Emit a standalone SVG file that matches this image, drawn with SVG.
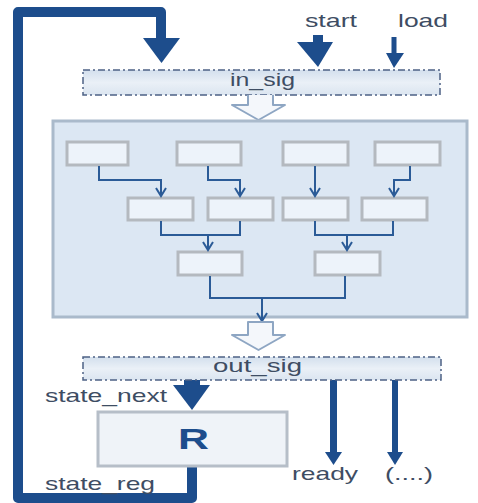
<svg xmlns="http://www.w3.org/2000/svg" width="478" height="503" viewBox="0 0 478 503">
<defs>
<linearGradient id="barg" x1="0" y1="0" x2="0" y2="1">
<stop offset="0" stop-color="#d3dfed"/>
<stop offset="0.5" stop-color="#eaf0f7"/>
<stop offset="1" stop-color="#dbe5f0"/>
</linearGradient>
<marker id="v" viewBox="-1 -6 11 12" refX="8" refY="0" markerWidth="11" markerHeight="12" markerUnits="userSpaceOnUse" orient="auto">
<path d="M0,-5 L8,0 L0,5" fill="none" stroke="#2b5b97" stroke-width="2"/>
</marker>
<style>
.lbl{font-family:"Liberation Sans",Arial,sans-serif;font-size:19px;fill:#3e4d63}
.bar{fill:url(#barg);stroke:#4d6285;stroke-width:1.5;stroke-dasharray:7 3 2 3}
.sbox{fill:#edf3fa;stroke:#b4b9bf;stroke-width:3}
.tree{fill:none;stroke:#2b5b97;stroke-width:2}
.thick{fill:#1d4d8c}
.hollow{fill:#f4f7fb;stroke:#8ea6c3;stroke-width:2;stroke-linejoin:round}
</style>
</defs>
<rect width="478" height="503" fill="#ffffff"/>

<g id="connectors">
<path d="M192,466 V498 H18 V12 H161 V40" fill="none" stroke="#1d4d8c" stroke-width="10" stroke-linejoin="round"/>
<polygon class="thick" points="143,38 180,38 161.5,63"/>
<rect class="thick" x="313" y="35" width="10" height="8"/>
<polygon class="thick" points="297,42 333,42 318,67"/>
<rect class="thick" x="391.5" y="37" width="5" height="17"/>
<polygon class="thick" points="386,53 404,53 394,68"/>
<rect class="thick" x="184" y="380" width="16" height="6"/>
<polygon class="thick" points="173,385 210,385 192,410"/>
<rect class="thick" x="330" y="380" width="7" height="74"/>
<polygon class="thick" points="325,452 342,452 333.5,465"/>
<rect class="thick" x="392" y="380" width="6" height="74"/>
<polygon class="thick" points="387,452 403,452 395,465"/>
</g>

<g id="in_sig">
<rect class="bar" x="83" y="70" width="357" height="25"/>
<text class="lbl" x="230" y="86" textLength="65" lengthAdjust="spacingAndGlyphs">in_sig</text>
</g>
<g id="start"><text class="lbl" x="305" y="27" textLength="52" lengthAdjust="spacingAndGlyphs">start</text></g>
<g id="load"><text class="lbl" x="398" y="27" textLength="50" lengthAdjust="spacingAndGlyphs">load</text></g>

<g id="hollow1"><path class="hollow" d="M248,95 V105 H232 L258.5,120 L285,105 H273 V95"/></g>

<g id="logic">
<rect x="53" y="121" width="414" height="196" fill="#dce7f3" stroke="#aabacb" stroke-width="3"/>
</g>
<g id="b1"><rect class="sbox" x="67" y="142" width="61" height="23"/></g>
<g id="b2"><rect class="sbox" x="177" y="142" width="64" height="23"/></g>
<g id="b3"><rect class="sbox" x="283" y="142" width="65" height="23"/></g>
<g id="b4"><rect class="sbox" x="375" y="142" width="65" height="23"/></g>
<g id="b5"><rect class="sbox" x="128" y="198" width="65" height="22"/></g>
<g id="b6"><rect class="sbox" x="208" y="198" width="65" height="22"/></g>
<g id="b7"><rect class="sbox" x="283" y="198" width="65" height="22"/></g>
<g id="b8"><rect class="sbox" x="362" y="198" width="65" height="22"/></g>
<g id="b9"><rect class="sbox" x="178" y="252" width="64" height="23"/></g>
<g id="b10"><rect class="sbox" x="315" y="252" width="65" height="23"/></g>

<g id="tree-connectors">
<path class="tree" d="M99,166 V180 H161 V196" marker-end="url(#v)"/>
<path class="tree" d="M208,166 V180 H240 V196" marker-end="url(#v)"/>
<path class="tree" d="M315,166 V196" marker-end="url(#v)"/>
<path class="tree" d="M410,166 V180 H394 V196" marker-end="url(#v)"/>
<path class="tree" d="M161,221 V235 H240 V221"/>
<path class="tree" d="M208,235 V250" marker-end="url(#v)"/>
<path class="tree" d="M315,221 V235 H393 V221"/>
<path class="tree" d="M347,235 V250" marker-end="url(#v)"/>
<path class="tree" d="M210,276 V298 H345 V276"/>
<path class="tree" d="M262,298 V321" marker-end="url(#v)"/>
</g>

<g id="hollow2"><path class="hollow" d="M248,322 V335 H232 L258.5,350 L285,335 H273 V322 Z"/></g>

<g id="out_sig">
<rect class="bar" x="83" y="357" width="358" height="23"/>
<text class="lbl" x="213" y="372" textLength="89" lengthAdjust="spacingAndGlyphs">out_sig</text>
</g>

<g id="state_next"><text class="lbl" x="45" y="402" textLength="122" lengthAdjust="spacingAndGlyphs">state_next</text></g>

<g id="R">
<rect x="98" y="412" width="189" height="54" fill="#eff3f8" stroke="#b6bec8" stroke-width="3"/>
<text x="178" y="449" font-family="Liberation Sans,Arial,sans-serif" font-weight="bold" font-size="29" fill="#1d4d8c" textLength="31" lengthAdjust="spacingAndGlyphs">R</text>
</g>

<g id="state_reg"><text class="lbl" x="45" y="490" textLength="110" lengthAdjust="spacingAndGlyphs">state_reg</text></g>
<g id="ready"><text class="lbl" x="292" y="480" textLength="66" lengthAdjust="spacingAndGlyphs">ready</text></g>
<g id="more"><text class="lbl" x="385" y="480" textLength="48" lengthAdjust="spacingAndGlyphs">(....)</text></g>
</svg>
